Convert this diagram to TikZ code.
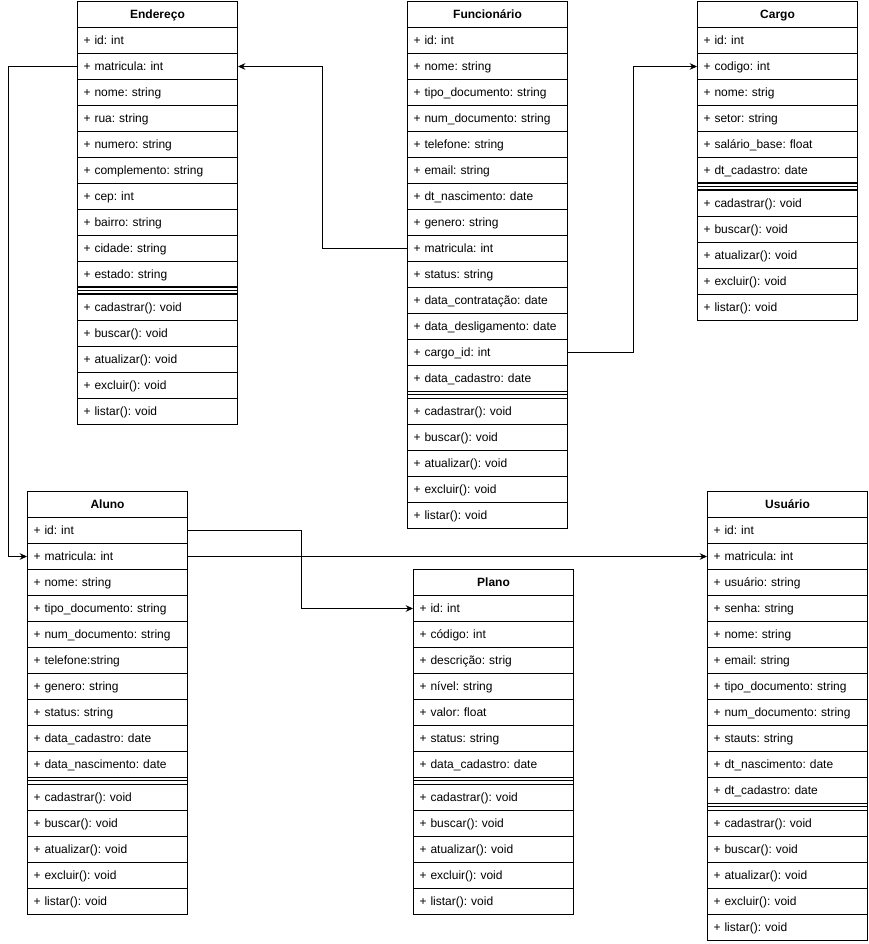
\documentclass[tikz,border=0pt]{standalone}
\usepackage{fontspec}
\setmainfont{Liberation Sans}
\usetikzlibrary{arrows.meta}
\frenchspacing
\tikzset{
  x=0.75pt, y=-0.75pt,
  rowbox/.style={draw, line width=0.75pt, minimum width=120pt, minimum height=19.5pt,
    inner xsep=4.5pt, inner ysep=0pt, text width=111pt, align=left,
    text height=6.5pt, text depth=0.5pt,
    font=\fontsize{9}{11}\selectfont, anchor=north west},
  titlebox/.style={rowbox, align=center, font=\fontsize{9}{11}\selectfont\bfseries},
  sepline/.style={draw, line width=0.75pt},
  conn/.style={draw, line width=0.75pt, -{Stealth[length=5.5pt,width=5pt,inset=1.8pt]}},
}
% name, x, top, nfields, title, fields, methods
\newcommand{\umlbox}[7]{%
  \node[titlebox] (#1) at (#2,#3) {#5};
  \foreach \t [count=\i] in {#6} {
    \node[rowbox] (#1-f\i) at (#2,{#3+26*\i}) {\t};
  }
  \draw[sepline] (#2,{#3+26+26*#4}) rectangle ({#2+160},{#3+26+26*#4+7});
  \draw[sepline] (#2,{#3+26+26*#4+3.5}) -- ({#2+160},{#3+26+26*#4+3.5});
  \foreach \t [count=\i] in {#7} {
    \node[rowbox] (#1-m\i) at (#2,{#3+26*#4+7+26*\i}) {\t};
  }
}
\begin{document}
\begin{tikzpicture}
\fill[white] (0,0) rectangle (868,944);
\useasboundingbox (0,0) rectangle (868,944);

\umlbox{end}{77}{1}{10}{Endereço}{+ id: int, + matricula: int, + nome: string, + rua: string, + numero: string, + complemento: string, + cep: int, + bairro: string, + cidade: string, + estado: string}{+ cadastrar(): void, + buscar(): void, + atualizar(): void, + excluir(): void, + listar(): void}

\umlbox{fun}{407}{1}{14}{Funcionário}{+ id: int, + nome: string, + tipo\_documento: string, + num\_documento: string, + telefone: string, + email: string, + dt\_nascimento: date, + genero: string, + matricula: int, + status: string, + data\_contratação: date, + data\_desligamento: date, + cargo\_id: int, + data\_cadastro: date}{+ cadastrar(): void, + buscar(): void, + atualizar(): void, + excluir(): void, + listar(): void}

\umlbox{cargo}{697}{1}{6}{Cargo}{+ id: int, + codigo: int, + nome: strig, + setor: string, + salário\_base: float, + dt\_cadastro: date}{+ cadastrar(): void, + buscar(): void, + atualizar(): void, + excluir(): void, + listar(): void}

\umlbox{aluno}{27}{491}{10}{Aluno}{+ id: int, + matricula: int, + nome: string, + tipo\_documento: string, + num\_documento: string, + telefone:string, + genero: string, + status: string, + data\_cadastro: date, + data\_nascimento: date}{+ cadastrar(): void, + buscar(): void, + atualizar(): void, + excluir(): void, + listar(): void}

\umlbox{plano}{413}{569}{7}{Plano}{+ id: int, + código: int, + descrição: strig, + nível: string, + valor: float, + status: string, + data\_cadastro: date}{+ cadastrar(): void, + buscar(): void, + atualizar(): void, + excluir(): void, + listar(): void}

\umlbox{usu}{707}{491}{11}{Usuário}{+ id: int, + matricula: int, + usuário: string, + senha: string, + nome: string, + email: string, + tipo\_documento: string, + num\_documento: string, + stauts: string, + dt\_nascimento: date, + dt\_cadastro: date}{+ cadastrar(): void, + buscar(): void, + atualizar(): void, + excluir(): void, + listar(): void}

\draw[conn] (fun-f9.west) -- ++(-85,0) |- (end-f2.east);
\draw[conn] (fun-f13.east) -- ++(65,0) |- (cargo-f2.west);
\draw[conn] (end-f2.west) -- ++(-69,0) |- (aluno-f2.west);
\draw[conn] (aluno-f1.east) -- ++(113,0) |- (plano-f1.west);
\draw[conn] (aluno-f2.east) -- (usu-f2.west);
\end{tikzpicture}
\end{document}
